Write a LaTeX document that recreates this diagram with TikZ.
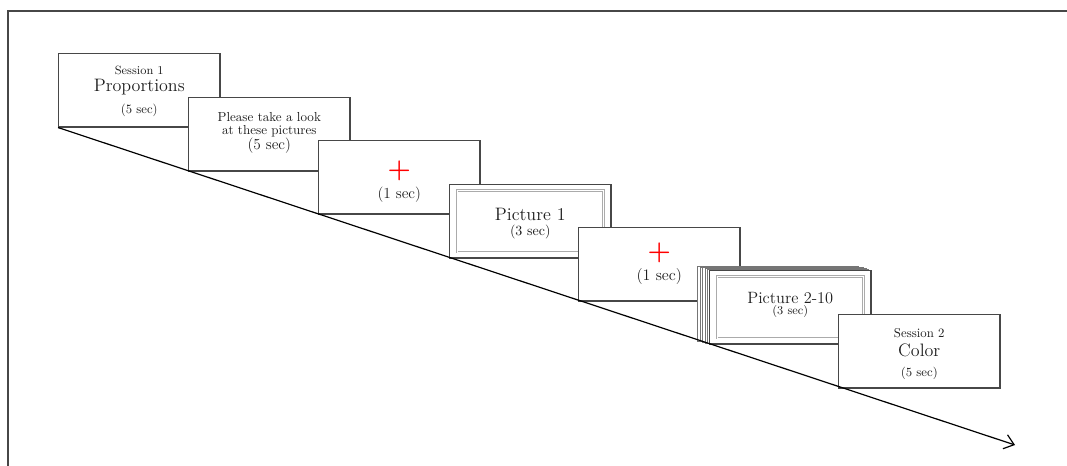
\documentclass[tikz,border=0pt]{standalone}
\usetikzlibrary{arrows.meta}
\definecolor{edge}{HTML}{474747}
\definecolor{ink}{HTML}{1E1E1E}
\definecolor{inner}{HTML}{ABABAB}
\newcommand{\fs}[1]{\fontsize{#1}{#1}\selectfont}
\tikzset{
  card/.style={draw=edge, line width=0.9pt, fill=white, minimum width=121pt, minimum height=55pt, anchor=north west, inner sep=0pt},
  txt/.style={text=ink, inner sep=0pt},
  cross/.style={text=red, inner sep=0pt, font=\fs{20}\bfseries},
  innerframe/.style={draw=inner, line width=0.6pt, double=white, double distance=0.6pt, minimum width=110pt, minimum height=46pt, inner sep=0pt},
  stackcard/.style={draw=edge!75, line width=0.5pt, fill=white, minimum width=121pt, minimum height=56pt, anchor=north west, inner sep=0pt},
}
\begin{document}
\begin{tikzpicture}[x=0.75pt, y=-0.75pt]
\useasboundingbox (0,0) rectangle (1067,465);
% outer frame
\draw[draw=edge, line width=1.5pt] (8,470) -- (8,11) -- (1075,11);
% arrow end
\coordinate (end) at (1015,445);
% cards
\node[card] (b1) at (58,53) {};
\node[card] (b2) at (188,97) {};
\node[card] (b3) at (318,140) {};
\node[card] (b4) at (449,184) {};
\node[innerframe] (b4i) at (b4.center) {};
\node[card] (b5) at (578,227) {};
% stack
\node[stackcard] (s1) at (697,266) {};
\node[stackcard] (s2) at (699.5,266.7) {};
\node[stackcard] (s3) at (702,267.4) {};
\node[stackcard] (s4) at (704.5,268.1) {};
\node[stackcard] (s5) at (707,268.8) {};
\node[card] (b6) at (709,270) {};
\node[innerframe] (b6i) at (b6.center) {};
\node[card] (b7) at (838,314) {};
% timeline
\draw[draw=black, line width=0.9pt, -{Straight Barb[length=7pt, width=11pt]}] (b1.south west) -- (end);
% texts
\node[txt, font=\fs{9}] (t1a) at ([yshift=15pt]b1.center) {Session 1};
\node[txt, font=\fs{13.5}] (t1b) at ([yshift=2.5pt]b1.center) {Proportions};
\node[txt, font=\fs{9.5}] (t1c) at ([yshift=-15pt]b1.center) {(5 sec)};
\node[txt, font=\fs{9.8}] (t2a) at ([yshift=13.3pt]b2.center) {Please take a look};
\node[txt, font=\fs{9.8}] (t2b) at ([yshift=2.5pt]b2.center) {at these pictures};
\node[txt, font=\fs{11.5}] (t2c) at ([yshift=-8.5pt]b2.center) {(5 sec)};
\node[cross] (c3) at ([yshift=4.5pt]b3.center) {+};
\node[txt, font=\fs{11.5}] (t3) at ([yshift=-13pt]b3.center) {(1 sec)};
\node[txt, font=\fs{13.5}] (t4a) at ([yshift=5pt]b4.center) {Picture 1};
\node[txt, font=\fs{10.5}] (t4b) at ([yshift=-8pt]b4.center) {(3 sec)};
\node[cross] (c5) at ([yshift=8.3pt]b5.center) {+};
\node[txt, font=\fs{12}] (t5) at ([yshift=-9.5pt]b5.center) {(1 sec)};
\node[txt, font=\fs{12.3}] (t6a) at ([yshift=7pt]b6.center) {Picture 2-10};
\node[txt, font=\fs{9}] (t6b) at ([yshift=-3.5pt]b6.center) {(3 sec)};
\node[txt, font=\fs{9.6}] (t7a) at ([yshift=13.5pt]b7.center) {Session 2};
\node[txt, font=\fs{13.5}] (t7b) at ([yshift=1pt]b7.center) {Color};
\node[txt, font=\fs{9.3}] (t7c) at ([yshift=-16.5pt]b7.center) {(5 sec)};
\end{tikzpicture}
\end{document}
